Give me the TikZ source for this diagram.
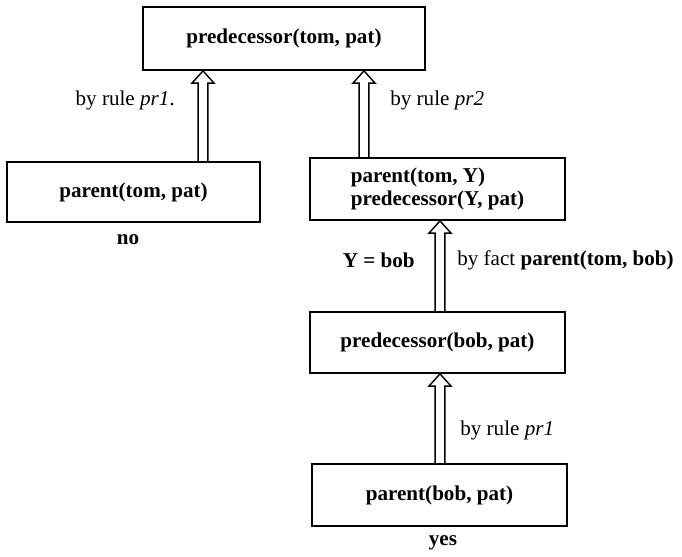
\documentclass[tikz,border=0pt]{standalone}
\usepackage{fontspec}
\setmainfont{Liberation Serif}
\usetikzlibrary{calc,positioning}
\tikzset{
  every node/.style={font=\fontsize{12}{13.5}\selectfont},
  goal/.style={draw,line width=1pt,minimum width=5.1cm,minimum height=1.24cm,
    font=\fontsize{12}{13.5}\selectfont\bfseries},
  answer/.style={font=\fontsize{12}{13.5}\selectfont\bfseries,inner sep=0pt},
  lbl/.style={inner sep=0pt},
  proof/.style={line width=.8pt,to path={let \p1=(\tikztostart),\p2=(\tikztotarget) in
    (\x1-2.8pt,\y1) -- (\x1-2.8pt,\y2-7pt) -- (\x1-6.3pt,\y2-7pt) -- (\x1,\y2)
    -- (\x1+6.3pt,\y2-7pt) -- (\x1+2.8pt,\y2-7pt) -- (\x1+2.8pt,\y1)}}
}

\begin{document}
\begin{tikzpicture}
\useasboundingbox (0,0) rectangle (13.64,-11.14);
% goals
\node[goal,minimum width=5.64cm,minimum height=1.26cm] (top) at (5.68,-.77) {predecessor(tom, pat)};
\node[goal,minimum width=5.06cm,minimum height=1.2cm] (pl) at (2.67,-3.84) {parent(tom, pat)};
\node[goal,align=left] (pr) at (8.75,-3.78) {parent(tom, Y)\\predecessor(Y, pat)};
\node[goal,minimum height=1.22cm] (mid) at (8.75,-6.85) {predecessor(bob, pat)};
\node[goal] (bot) at (8.79,-9.9) {parent(bob, pat)};
\node[answer] (no) at (2.56,-4.8) {no};
\node[answer] (yes) at (8.86,-10.86) {yes};
% arrows
\coordinate (a1) at (4.06,0);
\coordinate (a2) at (7.28,0);
\coordinate (a3) at (8.8,0);
\draw[proof] (pl.north -| a1) to (top.south -| a1);
\draw[proof] (pr.north -| a2) to (top.south -| a2);
\draw[proof] (mid.north -| a3) to (pr.south -| a3);
\draw[proof] (bot.north -| a3) to (mid.south -| a3);
% labels
\node[lbl,anchor=east] (r1) at (3.5,-2.0) {by rule \textit{pr1}.};
\node[lbl,anchor=west] (r2) at (7.8,-2.0) {by rule \textit{pr2}};
\node[lbl,anchor=east,font=\fontsize{12}{13.5}\selectfont\bfseries] (yb) at (8.3,-5.2) {Y = bob};
\node[lbl,anchor=west] (fact) at (9.14,-5.2) {by fact \textbf{parent(tom, bob)}};
\node[lbl,anchor=west] (r3) at (9.2,-8.6) {by rule \textit{pr1}};
\end{tikzpicture}
\end{document}
